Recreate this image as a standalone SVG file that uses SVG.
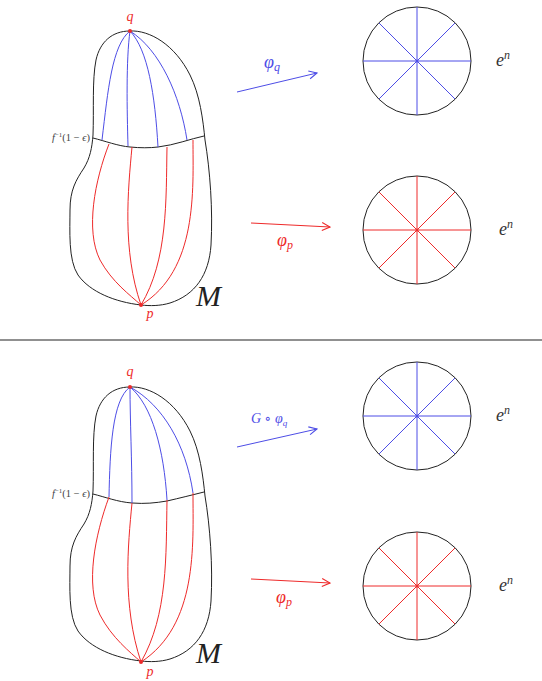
<svg xmlns="http://www.w3.org/2000/svg" width="542" height="681" viewBox="0 0 542 681">
<defs>
<style>
.out{fill:none;stroke:#222;stroke-width:1}
.bl{fill:none;stroke:#4d4de6;stroke-width:1}
.rd{fill:none;stroke:#ee2a2a;stroke-width:1}
.dg{shape-rendering:crispEdges}
.math{font-family:"Liberation Serif","DejaVu Serif",serif;font-style:italic}
.lbl{font-family:"Liberation Serif","DejaVu Serif",serif;font-size:10.5px;fill:#444}
</style>
<marker id="ab" viewBox="0 0 10 10" refX="9" refY="5" markerWidth="10" markerHeight="10" markerUnits="userSpaceOnUse" orient="auto"><path d="M1,1 L9,5 L1,9" fill="none" stroke="#4d4de6" stroke-width="1.1"/></marker>
<marker id="ar" viewBox="0 0 10 10" refX="9" refY="5" markerWidth="10" markerHeight="10" markerUnits="userSpaceOnUse" orient="auto"><path d="M1,1 L9,5 L1,9" fill="none" stroke="#ee2a2a" stroke-width="1.1"/></marker>
</defs>
<rect width="542" height="681" fill="#fff"/>

<!-- TOP PANEL -->
<g id="manifold-top">
<path class="out" d="M130,31 C150,30 175,45 190,75 C200,95 203,120 205,140 C210,170 213,210 211,245 C209,275 195,295 170,303 C160,306 150,306 141,305 C115,302 90,292 78,275 C68,260 70,230 70,210 C70,190 76,180 84,168 C90,158 92,148 93,135 C94,110 92,80 96,60 C100,42 112,31 130,31 Z"/>
<path class="out" d="M93,138 C105,141 118,146 130,147 C140,148 150,148 158,147 C175,145 190,139 204,136"/>
<path class="bl" d="M130,31 C112,45 108,90 102,140"/>
<path class="bl" d="M130,31 C126,60 127,110 128,146"/>
<path class="bl" d="M130,31 C148,50 155,95 158,147"/>
<path class="bl" d="M130,31 C160,50 180,95 187,140"/>
<path class="rd" d="M109,144 C95,180 85,230 100,260 C112,282 130,295 141,305"/>
<path class="rd" d="M132,147 C128,190 122,250 141,305"/>
<path class="rd" d="M167,147 C166,200 168,260 141,305"/>
<path class="rd" d="M193,140 C193,190 198,270 141,305"/>
<circle cx="130" cy="31" r="2" fill="#ee2a2a"/>
<circle cx="141" cy="305" r="2" fill="#ee2a2a"/>
<text class="math" x="130" y="21" font-size="14" fill="#ee2a2a" text-anchor="middle">q</text>
<text class="math" x="150" y="318" font-size="14" fill="#ee2a2a" text-anchor="middle">p</text>
<text class="math" x="196" y="306" font-size="30" fill="#222">M</text>
<text class="lbl" x="90" y="141" text-anchor="end"><tspan font-style="italic">f</tspan><tspan dy="-4" font-size="7">−1</tspan><tspan dy="4">(1 − </tspan><tspan font-style="italic">ϵ</tspan>)</text>
</g>

<g id="disk-q-top">
<circle cx="417" cy="61" r="54" class="out"/>
<path class="bl" d="M363,61 H471 M417,7 V115"/>
<path class="bl dg" d="M378.8,22.8 L455.2,99.2 M455.2,22.8 L378.8,99.2"/>
<circle cx="417" cy="61" r="1.5" fill="#4d4de6"/>
<text class="math" x="496" y="66" font-size="18" fill="#333">e<tspan dy="-7" font-size="12">n</tspan></text>
</g>

<g id="disk-p-top">
<circle cx="417" cy="230" r="54" class="out"/>
<path class="rd" d="M363,230 H471 M417,176 V284"/>
<path class="rd dg" d="M378.8,191.8 L455.2,268.2 M455.2,191.8 L378.8,268.2"/>
<circle cx="417" cy="230" r="1.5" fill="#ee2a2a"/>
<text class="math" x="499" y="235" font-size="18" fill="#333">e<tspan dy="-7" font-size="12">n</tspan></text>
</g>

<!-- BOTTOM PANEL -->
<g id="manifold-bottom">
<path class="out" transform="translate(0,356)" d="M130,31 C150,30 175,45 190,75 C200,95 203,120 205,140 C210,170 213,210 211,245 C209,275 195,295 170,303 C160,306 150,306 141,305 C115,302 90,292 78,275 C68,260 70,230 70,210 C70,190 76,180 84,168 C90,158 92,148 93,135 C94,110 92,80 96,60 C100,42 112,31 130,31 Z"/>
<path class="out" d="M93,494 C105,497 118,502 132,503 C145,504 155,503 167,501 C180,498 192,495 204,492"/>
<path class="bl" d="M130,387 C112,400 110,450 109,497"/>
<path class="bl" d="M130,387 C130,420 132,460 132,503"/>
<path class="bl" d="M130,387 C152,405 164,450 167,500"/>
<path class="bl" d="M130,387 C163,405 186,445 193,493"/>
<path class="rd" d="M109,497 C95,535 85,585 100,615 C112,638 130,652 141,662"/>
<path class="rd" d="M132,503 C128,545 122,605 141,662"/>
<path class="rd" d="M167,500 C166,555 168,615 141,662"/>
<path class="rd" d="M193,493 C193,545 198,625 141,662"/>
<circle cx="130" cy="387" r="2" fill="#ee2a2a"/>
<circle cx="141" cy="662" r="2" fill="#ee2a2a"/>
<text class="math" x="130" y="376" font-size="14" fill="#ee2a2a" text-anchor="middle">q</text>
<text class="math" x="150" y="676" font-size="14" fill="#ee2a2a" text-anchor="middle">p</text>
<text class="math" x="196" y="663" font-size="30" fill="#222">M</text>
<text class="lbl" x="90" y="497" text-anchor="end"><tspan font-style="italic">f</tspan><tspan dy="-4" font-size="7">−1</tspan><tspan dy="4">(1 − </tspan><tspan font-style="italic">ϵ</tspan>)</text>
</g>

<g id="disk-q-bottom">
<circle cx="417" cy="416" r="54" class="out"/>
<path class="bl" d="M363,416 H471 M417,362 V470"/>
<path class="bl dg" d="M378.8,377.8 L455.2,454.2 M455.2,377.8 L378.8,454.2"/>
<circle cx="417" cy="416" r="1.5" fill="#4d4de6"/>
<text class="math" x="496" y="421" font-size="18" fill="#333">e<tspan dy="-7" font-size="12">n</tspan></text>
</g>

<g id="disk-p-bottom">
<circle cx="417" cy="586" r="54" class="out"/>
<path class="rd" d="M363,586 H471 M417,532 V640"/>
<path class="rd dg" d="M378.8,547.8 L455.2,624.2 M455.2,547.8 L378.8,624.2"/>
<circle cx="417" cy="586" r="1.5" fill="#ee2a2a"/>
<text class="math" x="499" y="591" font-size="18" fill="#333">e<tspan dy="-7" font-size="12">n</tspan></text>
</g>

<line x1="0" y1="340" x2="542" y2="340" stroke="#222" stroke-width="1.2"/>

<g id="connectors">
<line x1="237" y1="92" x2="317" y2="73" stroke="#4d4de6" stroke-width="1" marker-end="url(#ab)"/>
<line x1="251" y1="223" x2="330" y2="227" stroke="#ee2a2a" stroke-width="1" marker-end="url(#ar)"/>
<line x1="237" y1="447" x2="317" y2="429" stroke="#4d4de6" stroke-width="1" marker-end="url(#ab)"/>
<line x1="251" y1="579" x2="330" y2="583" stroke="#ee2a2a" stroke-width="1" marker-end="url(#ar)"/>
<text class="math" x="264" y="68" font-size="18" fill="#4d4de6">φ<tspan dy="3" font-size="12">q</tspan></text>
<text class="math" x="277" y="246" font-size="18" fill="#ee2a2a">φ<tspan dy="3" font-size="12">p</tspan></text>
<text class="math" x="251" y="423" font-size="14" fill="#4d4de6">G ∘ φ<tspan dy="3" font-size="9">q</tspan></text>
<text class="math" x="276" y="603" font-size="18" fill="#ee2a2a">φ<tspan dy="3" font-size="12">p</tspan></text>
</g>
</svg>
